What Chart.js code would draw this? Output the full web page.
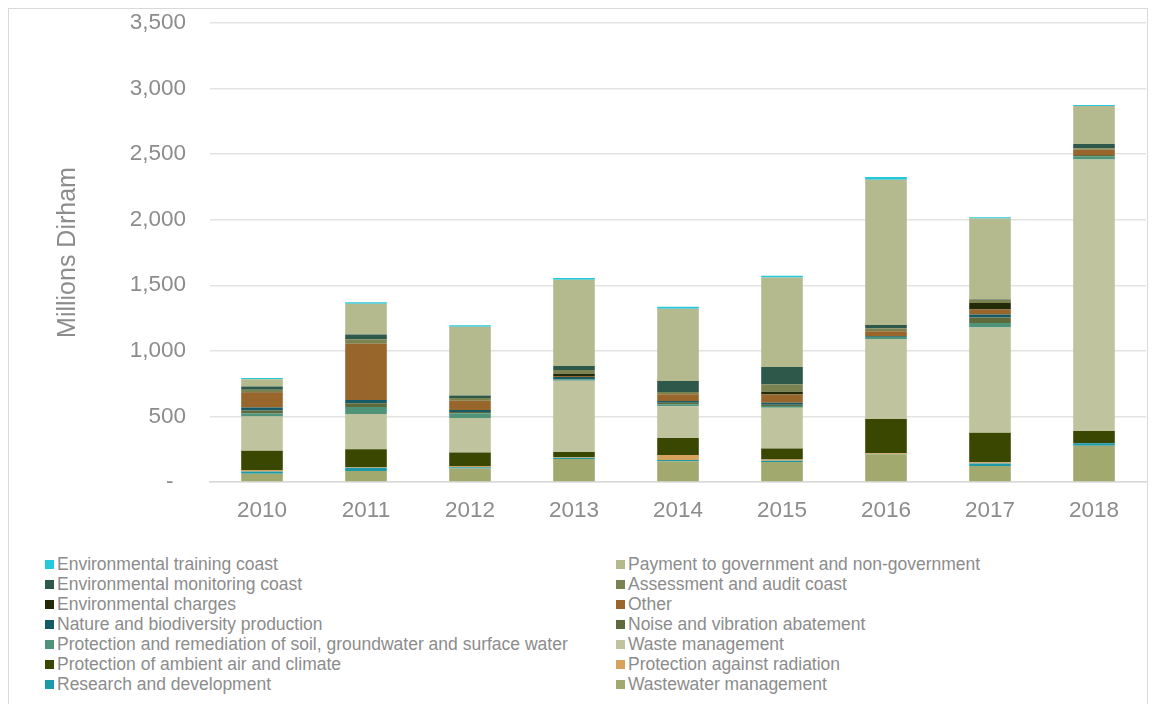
<!DOCTYPE html>
<html><head><meta charset="utf-8">
<script src="https://cdn.jsdelivr.net/npm/chart.js@4.4.0/dist/chart.umd.min.js"></script>
<style>
html,body{margin:0;padding:0;background:#fff;width:1154px;height:704px;overflow:hidden;font-family:"Liberation Sans",Arial,sans-serif;}
#frame{position:absolute;left:8px;top:8px;width:1140px;height:720px;border:1px solid #d9d9d9;box-sizing:border-box;}
#wrap{position:absolute;left:0;top:0;width:1154px;height:540px;}
#legend{position:absolute;left:45px;top:554px;display:grid;grid-template-columns:571px 520px;grid-auto-rows:20px;font-size:17.5px;color:#8c8c8c;}
.item{display:flex;align-items:center;white-space:nowrap;}
.sw{width:9px;height:9px;margin-right:3px;flex:none;}
</style></head>
<body>
<div id="frame"></div>
<div id="wrap"><canvas id="c"></canvas></div>
<div id="legend"></div>
<script>
const years = ['2010','2011','2012','2013','2014','2015','2016','2017','2018'];
const yTicks = [0, 500, 1000, 1500, 2000, 2500, 3000, 3500];
const zeroLabel = '-';
const yTitle = 'Millions Dirham';

// series, bottom of stack first
const wastewater = [63, 84, 102, 175, 158, 152, 211, 122, 277];
const research   = [18, 25, 10, 10, 10, 10, 3, 20, 18];
const radiation  = [10, 5, 10, 5, 38, 10, 5, 8, 0];
const airClimate = [147, 135, 102, 38, 130, 84, 262, 226, 94];
const wasteMgmt  = [262, 269, 264, 544, 241, 310, 610, 803, 2071];
const soilWater  = [23, 53, 36, 10, 15, 13, 15, 33, 23];
const noise      = [23, 30, 10, 0, 13, 10, 0, 43, 10];
const nature     = [23, 25, 15, 18, 13, 15, 5, 23, 0];
const other      = [114, 429, 71, 8, 51, 64, 38, 38, 41];
const charges    = [3, 0, 0, 18, 0, 20, 0, 48, 0];
const assessment = [18, 33, 20, 28, 18, 56, 23, 23, 10];
const monitoring = [25, 36, 20, 30, 84, 132, 25, 5, 33];
const payment    = [55, 236, 523, 658, 551, 683, 1108, 617, 290];
const training   = [9, 10, 13, 13, 15, 13, 20, 10, 8];

const seriesNames = [
  'Wastewater management',
  'Research and development',
  'Protection against radiation',
  'Protection of ambient air and climate',
  'Waste management',
  'Protection and remediation of soil, groundwater and surface water',
  'Noise and vibration abatement',
  'Nature and biodiversity production',
  'Other',
  'Environmental charges',
  'Assessment and audit coast',
  'Environmental monitoring coast',
  'Payment to government and non-government',
  'Environmental training coast'
];
const seriesValues = [wastewater, research, radiation, airClimate, wasteMgmt, soilWater, noise, nature, other, charges, assessment, monitoring, payment, training];
const seriesColors = ['#A2A96F','#1D9AA8','#D6A25C','#3A4700','#C0C49E','#4F9478','#5E6A3C','#155A65','#98652A','#222A08','#7A8350','#2E5849','#B4BA8E','#25C8DC'];

const datasets = seriesNames.map((n, i) => ({
  label: n,
  data: seriesValues[i],
  backgroundColor: seriesColors[i],
  borderWidth: 0,
  categoryPercentage: 1.0,
  barPercentage: 0.4
}));

const gray = '#8c8c8c';
const chart = new Chart(document.getElementById('c'), {
  type: 'bar',
  data: { labels: years, datasets },
  options: {
    responsive: true,
    maintainAspectRatio: false,
    animation: false,
    layout: { padding: { left: 0, top: 23, right: 8, bottom: 0 } },
    plugins: { legend: { display: false }, tooltip: { enabled: false } },
    scales: {
      x: {
        stacked: true,
        grid: { display: false },
        border: { display: true, color: '#d9d9d9', width: 1.5 },
        ticks: { color: gray, font: { size: 22.5, family: '"Liberation Sans", Arial, sans-serif' }, padding: 7 },
        afterFit: s => { s.height = 58; }
      },
      y: {
        stacked: true,
        min: 0, max: 3500,
        afterBuildTicks: s => { s.ticks = yTicks.map(v => ({ value: v })); },
        grid: { color: '#e3e3e3', lineWidth: 1.5, drawTicks: true, tickLength: 24, tickColor: 'rgba(0,0,0,0)' },
        border: { display: false },
        ticks: {
          color: gray, padding: 0,
          font: { size: 22.5, family: '"Liberation Sans", Arial, sans-serif' },
          callback: v => v === 0 ? zeroLabel + '\u00A0\u00A0' : v.toLocaleString('en-US')
        },
        title: {
          display: true, text: yTitle, color: gray,
          font: { size: 25, family: '"Liberation Sans", Arial, sans-serif' },
          padding: { top: 53, bottom: 0 }
        },
        afterFit: s => { s.width = 210; }
      }
    }
  }
});

// two-column legend in the reference order (top of stack first)
const leg = document.getElementById('legend');
for (let i = seriesNames.length - 1; i >= 0; i--) {
  const it = document.createElement('div');
  it.className = 'item';
  const sw = document.createElement('span');
  sw.className = 'sw';
  sw.style.background = seriesColors[i];
  const tx = document.createElement('span');
  tx.textContent = seriesNames[i];
  it.appendChild(sw); it.appendChild(tx);
  leg.appendChild(it);
}
</script>
</body></html>
